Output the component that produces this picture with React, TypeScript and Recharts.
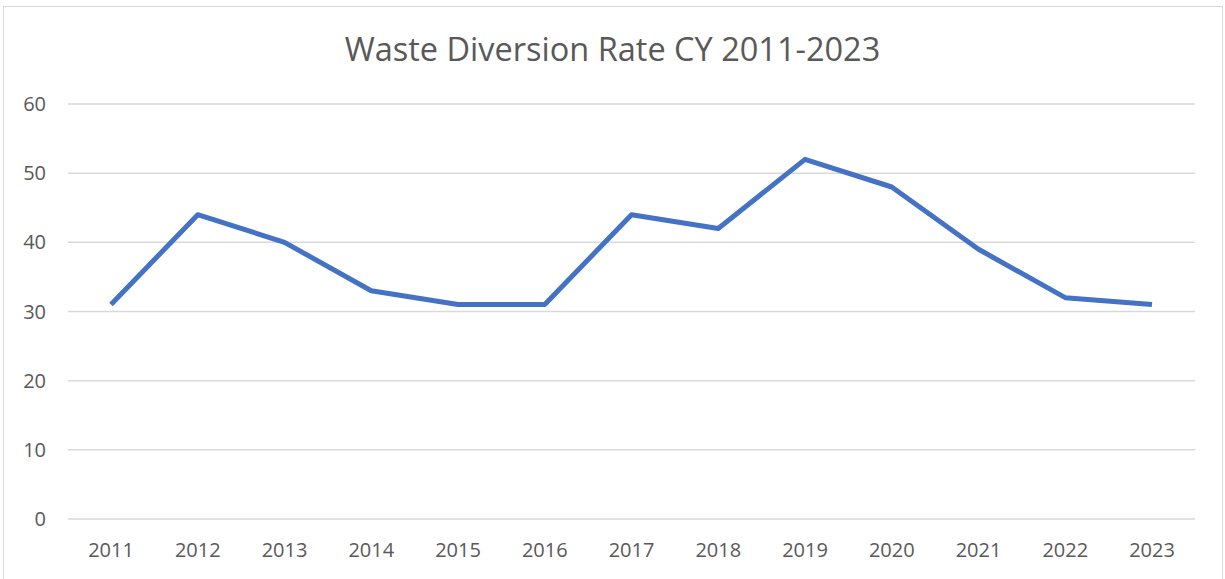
import { LineChart, Line, XAxis, YAxis, CartesianGrid } from 'recharts';

const years = ['2011', '2012', '2013', '2014', '2015', '2016', '2017', '2018', '2019', '2020', '2021', '2022', '2023'];
const diversionRate = [31, 44, 40, 33, 31, 31, 44, 42, 52, 48, 39, 32, 31];
const yTicks = [0, 10, 20, 30, 40, 50, 60];

const data = years.map((year, i) => ({ year, rate: diversionRate[i] }));

const FONT = '"Open Sans", sans-serif';
const TEXT_COLOR = '#595959';

export default function App() {
  return (
    <div style={{ position: 'absolute', left: 0, top: 0, width: 1225, height: 579, background: '#fff', overflow: 'hidden' }}>
      <div
        style={{
          position: 'absolute',
          left: 3,
          top: 6,
          width: 1218,
          height: 600,
          border: '1px solid #d9d9d9',
        }}
      />
      <div
        style={{
          position: 'absolute',
          left: 0,
          top: 26,
          width: 1225,
          textAlign: 'center',
          fontFamily: FONT,
          fontSize: 32.5,
          color: TEXT_COLOR,
          whiteSpace: 'nowrap',
        }}
      >
        Waste Diversion Rate CY 2011-2023
      </div>
      <div style={{ position: 'absolute', left: 0, top: 0 }}>
        <LineChart width={1225} height={579} data={data} margin={{ top: 104, right: 30, bottom: 20, left: 0 }}>
          <CartesianGrid vertical={false} stroke="#d9d9d9" strokeWidth={1.5} />
          <XAxis
            dataKey="year"
            height={40}
            axisLine={false}
            tickLine={false}
            tickMargin={18}
            interval={0}
            padding={{ left: 43, right: 43 }}
            tick={{ fill: TEXT_COLOR, fontFamily: FONT, fontSize: 20 }}
          />
          <YAxis
            width={68}
            domain={[0, 60]}
            ticks={yTicks}
            axisLine={false}
            tickLine={false}
            tickMargin={16}
            tick={{ fill: TEXT_COLOR, fontFamily: FONT, fontSize: 20 }}
          />
          <Line
            type="linear"
            dataKey="rate"
            stroke="#4472C4"
            strokeWidth={5}
            dot={false}
            strokeLinejoin="round"
            isAnimationActive={false}
          />
        </LineChart>
      </div>
    </div>
  );
}
